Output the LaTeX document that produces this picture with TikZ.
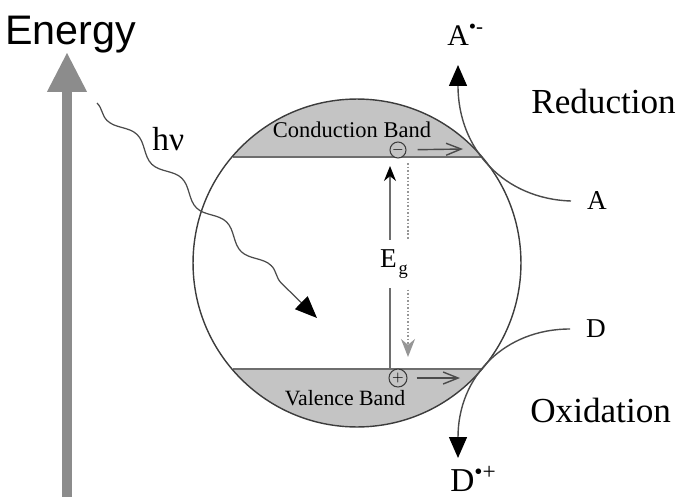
\documentclass[tikz,border=0pt]{standalone}
\usepackage{fontspec}
\setmainfont{Liberation Serif}
\newfontfamily\axisfont{Liberation Sans}
\usetikzlibrary{arrows.meta,decorations.pathmorphing}
\definecolor{bandGray}{RGB}{196,196,196}
\definecolor{rimGray}{RGB}{60,60,60}
\definecolor{lineGray}{RGB}{110,110,110}
\definecolor{axisGray}{RGB}{140,140,140}
\definecolor{dotGray}{RGB}{150,150,150}
\definecolor{curveGray}{RGB}{75,75,75}

\begin{document}
\begin{tikzpicture}[x=0.02cm, y=-0.02cm,
    lbl/.style={inner sep=0pt, anchor=base west, font=\fontsize{20}{20}\selectfont},
    species/.style={inner sep=0pt, inner xsep=9pt, font=\fontsize{15.5}{16}\selectfont},
    bandtxt/.style={inner sep=0pt, anchor=base, font=\fontsize{12.8}{13}\selectfont},
    carrier/.style={circle, draw=rimGray, fill=bandGray, line width=0.6pt, inner sep=0pt,
      font=\fontsize{8}{8}\selectfont},
    drift/.style={-{Straight Barb[length=0.3cm,width=0.24cm]}, curveGray, line width=0.8pt},
    transfer/.style={-{Triangle[length=0.42cm,width=0.36cm,color=black]}, curveGray, line width=0.8pt},
    >=Stealth
  ]
  \useasboundingbox (0,0) rectangle (683,497);

  \coordinate (ebot) at (67,497);
  \coordinate (etop) at (67,52);
  \draw[line width=0.2cm, axisGray, -{Triangle[length=0.8cm,width=0.74cm]}] (ebot) -- (etop);
  \node[inner sep=0pt, anchor=base west, font=\axisfont\fontsize{23.5}{24}\selectfont] (energy) at (5,44) {Energy};

  \node[circle, minimum size=6.56cm, inner sep=0pt] (dot) at (357,263) {};
  \begin{scope}
    \clip (dot.center) circle[radius=3.28cm];
    \fill[bandGray] (180,90) rectangle (540,157);
    \fill[bandGray] (180,369) rectangle (540,440);
  \end{scope}
  \coordinate (cbl) at (232.5,157);
  \coordinate (cbr) at (481.5,157);
  \coordinate (vbl) at (232.5,369);
  \coordinate (vbr) at (481.5,369);
  \draw[lineGray, line width=1.1pt] (cbl) -- (cbr);
  \draw[lineGray, line width=1.1pt] (vbl) -- (vbr);
  \draw[rimGray, line width=0.8pt] (dot.center) circle[radius=3.28cm];

  \node[bandtxt] (cband) at (352,137) {Conduction Band};
  \node[bandtxt, font=\fontsize{12.4}{13}\selectfont] (vband) at (345,405) {Valence Band};

  \node[carrier, minimum size=0.32cm] (elec) at (398,150) {$-$};
  \node[carrier, minimum size=0.36cm] (hole) at (398,378) {$+$};
  \coordinate (ctip) at (463,149);
  \coordinate (vtip) at (460,378);
  \draw[drift, shorten <=0.22cm] (elec) -- (ctip);
  \draw[drift, shorten <=0.18cm] (hole) -- (vtip);

  \coordinate (upfoot) at (390,369);
  \coordinate (uptip) at (390,166);
  \coordinate (dnfoot) at (408,163);
  \coordinate (dntip) at (408,357);
  \draw[lineGray, line width=0.9pt, -{Stealth[length=0.3cm,width=0.24cm,color=black]}] (upfoot) -- (uptip);
  \draw[dotGray, line width=1pt, densely dotted, -{Stealth[length=0.36cm,width=0.28cm]}] (dnfoot) -- (dntip);
  \node[fill=white, inner sep=0pt, minimum width=0.7cm, minimum height=0.98cm,
    font=\fontsize{15.5}{16}\selectfont] (gap) at (394,264)
    {E\kern1pt\raisebox{-0.5ex}{\fontsize{10.5}{10.5}\selectfont g}};

  \coordinate (hvstart) at (97,103);
  \coordinate (hvend) at (317,318);
  \draw[curveGray, line width=0.7pt, -{Triangle[length=0.44cm,width=0.36cm,color=black]},
    decorate, decoration={snake, mirror, amplitude=0.11cm, segment length=1.25cm, post length=0.5cm}]
    (hvstart) -- (hvend);
  \node[lbl, font=\fontsize{19}{19}\selectfont] (hv) at (152,150) {hν};

  \node[species] (A) at (597,201) {A};
  \node[species] (D) at (596,329) {D};
  \coordinate (redtip) at (458,65);
  \coordinate (oxtip) at (458,458);
  \draw[transfer] (A.west) .. controls (505,199) and (458,150) .. (redtip);
  \draw[transfer] (D.west) .. controls (505,329) and (458,376) .. (oxtip);
  \node[lbl, font=\fontsize{17}{17}\selectfont] (Ared) at (447,45) {A\textsuperscript{•-}};
  \node[lbl, font=\fontsize{19}{19}\selectfont] (Dox) at (450,491) {D\textsuperscript{•+}};
  \node[lbl] (red) at (531,113) {Reduction};
  \node[lbl] (ox) at (530,422) {Oxidation};
\end{tikzpicture}
\end{document}
